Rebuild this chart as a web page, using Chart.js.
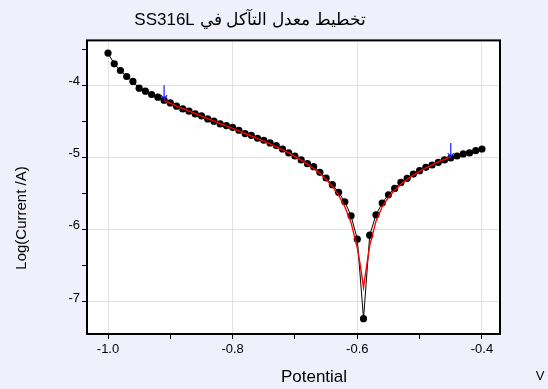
<!DOCTYPE html>
<html><head><meta charset="utf-8">
<script src="https://cdn.jsdelivr.net/npm/chart.js@4.4.1/dist/chart.umd.min.js"></script>
<style>html,body{margin:0;padding:0;background:#F0F0FC;}</style>
</head><body>
<canvas id="c" width="548" height="389"></canvas>
<script>
// ---- data ----
const titleText = "SS316L تخطيط معدل التآكل في";
const xTitle = "Potential";
const xUnit = "V";
const yTitle = "Log(Current /A)";

const xTickMajor = [-1.0, -0.8, -0.6, -0.4];
const xTickMinor = [-0.9, -0.7, -0.5];
const yTickMajor = [-7, -6, -5, -4];
const yTickMinor = [-6.5, -5.5, -4.5, -3.5];

const potential = [-1.00,-0.99,-0.98,-0.97,-0.96,-0.95,-0.94,-0.93,-0.92,-0.91,
  -0.90,-0.89,-0.88,-0.87,-0.86,-0.85,-0.84,-0.83,-0.82,-0.81,
  -0.80,-0.79,-0.78,-0.77,-0.76,-0.75,-0.74,-0.73,-0.72,-0.71,
  -0.70,-0.69,-0.68,-0.67,-0.66,-0.65,-0.64,-0.63,-0.62,-0.61,
  -0.60,-0.59,-0.58,-0.57,-0.56,-0.55,-0.54,-0.53,-0.52,-0.51,
  -0.50,-0.49,-0.48,-0.47,-0.46,-0.45,-0.44,-0.43,-0.42,-0.41,-0.40];
const logCurrent = [-3.551,-3.699,-3.792,-3.875,-3.944,-4.037,-4.079,-4.125,-4.162,-4.204,
  -4.241,-4.287,-4.324,-4.356,-4.394,-4.421,-4.463,-4.495,-4.532,-4.556,
  -4.579,-4.620,-4.667,-4.690,-4.731,-4.759,-4.796,-4.833,-4.880,-4.935,
  -4.977,-5.032,-5.083,-5.125,-5.204,-5.282,-5.375,-5.481,-5.611,-5.806,
  -6.130,-7.231,-6.074,-5.792,-5.630,-5.514,-5.426,-5.343,-5.287,-5.227,
  -5.181,-5.134,-5.102,-5.065,-5.032,-5.005,-4.977,-4.949,-4.935,-4.903,-4.880];

const fitPotential = [-0.91,-0.90,-0.89,-0.88,-0.87,-0.86,-0.85,-0.84,-0.83,-0.82,
  -0.81,-0.80,-0.79,-0.78,-0.77,-0.76,-0.75,-0.74,-0.73,-0.72,
  -0.71,-0.70,-0.69,-0.68,-0.67,-0.66,-0.65,-0.64,-0.63,-0.62,
  -0.61,-0.60,-0.595,-0.59,-0.585,-0.58,-0.57,-0.56,-0.55,-0.54,
  -0.53,-0.52,-0.51,-0.50,-0.49,-0.48,-0.47,-0.46,-0.45];
const fitLogCurrent = [-4.21,-4.245,-4.285,-4.32,-4.355,-4.39,-4.425,-4.46,-4.495,-4.53,
  -4.56,-4.595,-4.63,-4.665,-4.70,-4.735,-4.77,-4.81,-4.85,-4.89,
  -4.935,-4.985,-5.035,-5.09,-5.15,-5.22,-5.30,-5.40,-5.52,-5.68,
  -5.90,-6.25,-6.50,-6.80,-6.50,-6.22,-5.88,-5.68,-5.55,-5.45,
  -5.37,-5.30,-5.24,-5.19,-5.14,-5.10,-5.06,-5.025,-4.99];

const arrowPotential = [-0.91, -0.45];
const arrowLogCurrent = [-4.204, -5.005];

// ---- chart ----
const FONT = "'Liberation Sans', Arial, sans-serif";
const isIn = (arr, v) => arr.some(a => Math.abs(a - v) < 1e-9);

const bgPlugin = {
  id: 'bg',
  beforeDraw(chart) {
    const {ctx, chartArea: a} = chart;
    ctx.save();
    ctx.fillStyle = '#F0F0FC';
    ctx.fillRect(0, 0, chart.width, chart.height);
    ctx.fillStyle = '#FFFFFF';
    ctx.fillRect(a.left, a.top, a.right - a.left, a.bottom - a.top);
    ctx.restore();
  }
};
const framePlugin = {
  id: 'frame',
  afterDatasetsDraw(chart) {
    const {ctx, chartArea: a} = chart;
    ctx.save();
    ctx.strokeStyle = '#000';
    ctx.lineWidth = 2;
    ctx.strokeRect(a.left, a.top, a.right - a.left, a.bottom - a.top);
    ctx.restore();
  }
};
const arrowPlugin = {
  id: 'arrows',
  afterDatasetsDraw(chart) {
    const {ctx, scales} = chart;
    ctx.save();
    ctx.strokeStyle = '#1a1aff';
    ctx.lineWidth = 1.2;
    for (let i = 0; i < arrowPotential.length; i++) {
      const px = scales.x.getPixelForValue(arrowPotential[i]);
      const py = scales.y.getPixelForValue(arrowLogCurrent[i]);
      ctx.beginPath();
      ctx.moveTo(px, py - 15);
      ctx.lineTo(px, py - 1);
      ctx.moveTo(px - 3, py - 5);
      ctx.lineTo(px, py - 1);
      ctx.lineTo(px + 3, py - 5);
      ctx.stroke();
    }
    ctx.restore();
  }
};
const labelsPlugin = {
  id: 'axisLabels',
  afterDraw(chart) {
    const {ctx} = chart;
    ctx.save();
    ctx.fillStyle = '#000';
    ctx.textAlign = 'center';
    ctx.textBaseline = 'middle';
    ctx.font = '17px ' + FONT;
    ctx.fillText(xTitle, 314, 377);
    ctx.font = '13px ' + FONT;
    ctx.fillText(xUnit, 540, 376);
    ctx.translate(22, 218);
    ctx.rotate(-Math.PI / 2);
    ctx.font = '15px ' + FONT;
    ctx.fillText(yTitle, 0, 0);
    ctx.restore();
  }
};

const toPts = (xs, ys) => xs.map((x, i) => ({x: x, y: ys[i]}));

new Chart(document.getElementById('c'), {
  type: 'scatter',
  data: {
    datasets: [
      {
        label: 'Fit',
        data: toPts(fitPotential, fitLogCurrent),
        showLine: true,
        borderColor: '#FF0000',
        borderWidth: 1.4,
        pointRadius: 0,
        tension: 0,
        order: 0
      },
      {
        label: 'Data',
        data: toPts(potential, logCurrent),
        showLine: true,
        borderColor: '#000000',
        borderWidth: 1,
        backgroundColor: '#000000',
        pointBackgroundColor: '#000000',
        pointBorderColor: '#000000',
        pointRadius: 3.6,
        pointBorderWidth: 0,
        tension: 0,
        order: 1
      }
    ]
  },
  options: {
    responsive: false,
    animation: false,
    events: [],
    layout: {padding: {left: 0, right: 48, top: 0, bottom: 0}},
    plugins: {
      legend: {display: false},
      tooltip: {enabled: false},
      title: {
        display: true,
        text: titleText,
        color: '#000',
        font: {family: FONT, size: 17, weight: 'normal'},
        padding: {top: 10, bottom: 10}
      }
    },
    scales: {
      x: {
        type: 'linear',
        min: -1.0337,
        max: -0.371,
        afterBuildTicks(s) {
          s.ticks = [...xTickMajor, ...xTickMinor].sort((a, b) => a - b).map(v => ({value: v}));
        },
        afterFit(s) { s.height = 55; },
        border: {display: false},
        grid: {
          color: c => (c.tick && isIn(xTickMajor, c.tick.value)) ? '#E2E2E2' : 'rgba(0,0,0,0)',
          lineWidth: 1,
          tickColor: '#000',
          tickLength: 5
        },
        ticks: {
          autoSkip: false,
          maxRotation: 0,
          padding: 3,
          color: '#000',
          font: {family: FONT, size: 13},
          callback: v => isIn(xTickMajor, v) ? v.toFixed(1) : ''
        }
      },
      y: {
        type: 'linear',
        min: -7.444,
        max: -3.375,
        afterBuildTicks(s) {
          s.ticks = [...yTickMajor, ...yTickMinor].sort((a, b) => a - b).map(v => ({value: v}));
        },
        afterFit(s) { s.width = 87; },
        border: {display: false},
        grid: {
          color: c => (c.tick && isIn(yTickMajor, c.tick.value)) ? '#E2E2E2' : 'rgba(0,0,0,0)',
          lineWidth: 1,
          tickColor: '#000',
          tickLength: 5
        },
        ticks: {
          autoSkip: false,
          padding: 2,
          labelOffset: -4,
          color: '#000',
          font: {family: FONT, size: 13},
          callback: v => isIn(yTickMajor, v) ? String(v) : ''
        }
      }
    }
  },
  plugins: [bgPlugin, framePlugin, arrowPlugin, labelsPlugin]
});
</script>
</body></html>
